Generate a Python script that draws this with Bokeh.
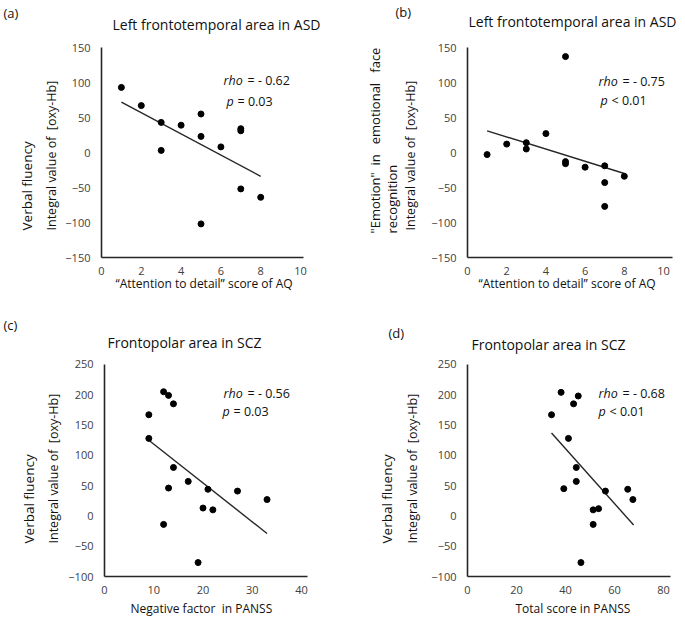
from bokeh.plotting import figure
from bokeh.models import Label, Range1d, FixedTicker, Title
from bokeh.layouts import row, column
from bokeh.embed import file_html
from bokeh.resources import INLINE

FONT = "Open Sans"
TXT = "#111111"
NB = "\u00a0"

# ---------------- data ----------------
a_x = [1, 2, 3, 3, 4, 5, 5, 5, 6, 7, 7, 7, 8]
a_y = [93, 67, 43, 3, 39, 55, 23, -102, 8, 31, 34, -52, -64]
a_fit_x = [1, 8]
a_fit_y = [72, -34]

b_x = [1, 2, 3, 3, 4, 5, 5, 5, 6, 7, 7, 7, 8]
b_y = [-3, 12, 14, 5, 27, 137, -13, -16, -21, -19, -43, -77, -34]
b_fit_x = [1, 8]
b_fit_y = [31, -30]

c_x = [9, 9, 12, 13, 14, 14, 13, 12, 17, 21, 20, 22, 19, 27, 33]
c_y = [167, 128, 205, 199, 185, 80, 46, -14, 57, 44, 13, 10, -77, 41, 27]
c_fit_x = [9, 33]
c_fit_y = [125, -29]

d_x = [34.3, 38.2, 45.2, 43.3, 41.2, 44.4, 44.4, 39.3, 56.3, 65.4, 67.5, 51.3, 53.5, 51.3, 46.3]
d_y = [167, 204, 198, 185, 128, 80, 57, 45, 41, 44, 27, 10, 12, -14, -77]
d_fit_x = [34.3, 67.8]
d_fit_y = [137, -15]

a_xticks = [0, 2, 4, 6, 8, 10]
b_xticks = [0, 2, 4, 6, 8, 10]
c_xticks = [0, 10, 20, 30, 40]
d_xticks = [0, 20, 40, 60, 80]
ab_yticks = [-150, -100, -50, 0, 50, 100, 150]
cd_yticks = [-100, -50, 0, 50, 100, 150, 200, 250]

INTEGRAL = "Integral value of" + NB + NB + "[oxy-Hb]"


def lab(p, x, y, text, size="12.5px", align="left", style="normal"):
    p.add_layout(Label(x=x, y=y, x_units="screen", y_units="screen", text=text,
                       text_font=FONT, text_font_size=size, text_align=align,
                       text_baseline="middle", text_font_style=style,
                       text_color=TXT))


def side(p, place, text, size, offset, standoff, valign="bottom"):
    p.add_layout(Title(text=text, align="left", offset=offset, standoff=standoff,
                       vertical_align=valign, text_font=FONT, text_font_size=size,
                       text_font_style="normal", text_color=TXT), place)


def panel(borders, xr, yr, xb, yb, xticks, yticks, xs, ys, fx, fy):
    left, right, top, bottom = borders
    p = figure(width=342, height=310, output_backend="svg", toolbar_location=None,
               min_border_left=left, min_border_right=right,
               min_border_top=top, min_border_bottom=bottom,
               x_range=Range1d(*xr), y_range=Range1d(*yr))
    p.grid.visible = False
    p.outline_line_color = None
    p.background_fill_color = None
    for ax in (p.xaxis, p.yaxis):
        ax.axis_line_color = "#262626"
        ax.axis_line_width = 1.6
        ax.major_tick_line_color = None
        ax.minor_tick_line_color = None
        ax.major_tick_out = 0
        ax.major_tick_in = 0
        ax.minor_tick_out = 0
        ax.major_label_text_font = FONT
        ax.major_label_text_font_size = "11px"
        ax.major_label_text_color = "#404040"
    p.xaxis.major_label_standoff = 9
    p.yaxis.major_label_standoff = 11
    p.xaxis.ticker = FixedTicker(ticks=xticks)
    p.yaxis.ticker = FixedTicker(ticks=yticks)
    p.xaxis.bounds = xb
    p.yaxis.bounds = yb
    p.line(fx, fy, line_color="#262626", line_width=1.4)
    p.scatter(xs, ys, size=6, color="black")
    return p


# (a)
pa = panel((101, 0, 12, 53), (0, 12.11), (-150, 200.0), (0, 10.15), (-150, 150),
           a_xticks, ab_yticks, a_x, a_y, a_fit_x, a_fit_y)
lab(pa, 115, 233.5, "Left frontotemporal area in ASD", "14px", "center")
lab(pa, 122, 177, "rho", style="italic")
lab(pa, 146, 177, "= - 0.62")
lab(pa, 125, 156, "p", style="italic")
lab(pa, 136, 156, "= 0.03")
side(pa, "above", "(a)", "13px", -98, -18.7)
side(pa, "left", INTEGRAL, "12.5px", 27, 4.2)
side(pa, "left", "Verbal fluency", "13.5px", 27, 6.4)
side(pa, "below", "\u201cAttention to detail\u201d score of AQ", "12px", 14, -10.4)

# (b)
pb = panel((125, 0, 12, 53), (0, 11.07), (-150, 200.0), (0, 10.46), (-150, 150),
           b_xticks, ab_yticks, b_x, b_y, b_fit_x, b_fit_y)
lab(pb, 105, 236, "Left frontotemporal area in ASD", "14px", "center")
lab(pb, 131, 176, "rho", style="italic")
lab(pb, 155, 176, "= - 0.75")
lab(pb, 133, 157, "p", style="italic")
lab(pb, 144, 157, "< 0.01")
side(pb, "above", "(b)", "13px", -72, -17.7)
side(pb, "left", INTEGRAL, "12.5px", 27, 18.2)
side(pb, "left", "recognition", "13px", 24, -18.9)
side(pb, "left", "\"Emotion\"" + NB * 2 + "in" + NB * 3 + "emotional" + NB * 3 + "face",
     "13px", 24, 13.5)
side(pb, "below", "\u201cAttention to detail\u201d score of AQ", "12px", 11, -10.4)

# (c)
pc = panel((104, 0, 22, 44), (0, 48.32), (-100, 302.8), (0, 41.2), (-100, 250),
           c_xticks, cd_yticks, c_x, c_y, c_fit_x, c_fit_y)
lab(pc, 80, 234, "Frontopolar area in SCZ", "14px", "center")
lab(pc, 119, 183, "rho", style="italic")
lab(pc, 143, 183, "= - 0.56")
lab(pc, 118, 165, "p", style="italic")
lab(pc, 129, 165, "= 0.03")
side(pc, "above", "(c)", "13px", -101, -3.7)
side(pc, "left", INTEGRAL, "12.5px", 33, 6.2)
side(pc, "left", "Verbal fluency", "13.5px", 33, 4.4)
side(pc, "below", "Negative factor" + NB + NB + "in PANSS", "12px", 26, 1.6)

# (d)
pd_ = panel((125, 0, 22, 44), (0, 88.57), (-100, 302.8), (0, 82.9), (-100, 250),
            d_xticks, cd_yticks, d_x, d_y, d_fit_x, d_fit_y)
lab(pd_, 81, 232, "Frontopolar area in SCZ", "14px", "center")
lab(pd_, 131, 183, "rho", style="italic")
lab(pd_, 155, 183, "= - 0.68")
lab(pd_, 131, 165, "p", style="italic")
lab(pd_, 142, 165, "< 0.01")
side(pd_, "above", "(d)", "13px", -79, -19.7)
side(pd_, "left", INTEGRAL, "12.5px", 33, 14.2)
side(pd_, "left", "Verbal fluency", "13.5px", 33, -1.6)
side(pd_, "below", "Total score in PANSS", "12px", 48, 1.6)

layout = column(row(pa, pb, spacing=0), row(pc, pd_, spacing=0), spacing=0)
open("out.html", "w").write(file_html(layout, INLINE))
